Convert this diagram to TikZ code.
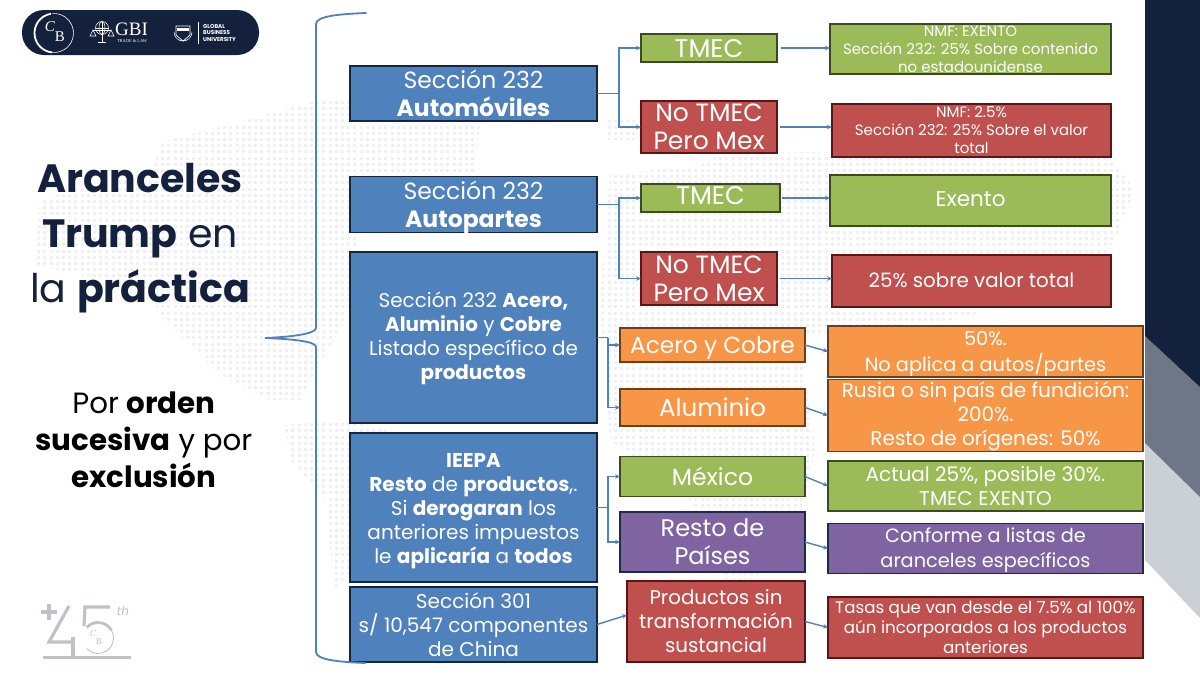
\documentclass[tikz,border=0pt]{standalone}
\usepackage{fontspec}
\setmainfont{Poppins}
\newfontfamily\serifgbi{Liberation Serif}
\usetikzlibrary{arrows.meta}
\definecolor{navy}{HTML}{14213D}
\definecolor{bluef}{HTML}{4F81BD}
\definecolor{blueb}{HTML}{14263F}
\definecolor{greenf}{HTML}{9BBB59}
\definecolor{greenb}{HTML}{3C4A20}
\definecolor{redf}{HTML}{C0504D}
\definecolor{redb}{HTML}{5A1616}
\definecolor{orangef}{HTML}{F79646}
\definecolor{orangeb}{HTML}{6E3F14}
\definecolor{purplef}{HTML}{8064A2}
\definecolor{purpleb}{HTML}{1F2A4A}
\definecolor{wire}{HTML}{4F81BD}
\definecolor{logogray}{HTML}{BFC2C7}
\definecolor{panelgray}{HTML}{6F7787}
\definecolor{panellight}{HTML}{CBCFD6}
\definecolor{mapdot}{HTML}{EEF0F4}
\newcommand{\fz}[2]{\fontsize{#1}{#2}\selectfont}
\newcommand{\dn}[2]{\raisebox{-#1}[\height][\depth]{\begin{tabular}{@{}c@{}}#2\end{tabular}}}
\tikzset{
  x=1pt,y=-1pt,
  box/.style n args={2}{minimum width=#1pt,minimum height=#2pt,inner sep=0pt,outer sep=0pt,
     align=center,text=white,line width=1.3pt,draw},
  bluebox/.style={fill=bluef,draw=blueb},
  greenbox/.style={fill=greenf,draw=greenb},
  redbox/.style={fill=redf,draw=redb},
  orangebox/.style={fill=orangef,draw=orangeb},
  purplebox/.style={fill=purplef,draw=purpleb},
  wireline/.style={draw=wire,line width=1.4pt},
  wirearrow/.style={wireline,-{Stealth[length=5pt,width=4.5pt]}},
  title/.style={align=center,inner sep=0pt},
}
\begin{document}
\begin{tikzpicture}
\useasboundingbox (0,0) rectangle (1200,675);
\fill[white] (0,0) rectangle (1200,675);
% world map of dots
\begin{scope}
\clip (160,142)--(240,122)--(320,100)--(470,103)--(480,125)--(475,172)--(360,175)--(358,270)--(345,320)--(300,400)--(270,400)--(220,375)--(190,345)--(160,315)--(150,290)--(35,265)--(40,200)--(155,165)--cycle
 (285,425)--(350,420)--(420,440)--(400,500)--(360,560)--(335,590)--(325,500)--(290,460)--cycle
 (604,120)--(645,120)--(645,140)--(604,140)--cycle
 (610,175)--(700,165)--(722,152)--(1105,152)--(1135,190)--(1115,240)--(1080,290)--(950,320)--(800,335)--(815,450)--(790,560)--(730,590)--(690,500)--(610,440)--(600,300)--cycle;
\foreach \r in {96,102.2,...,600}
  \draw[mapdot,line width=3pt,dash pattern=on 3pt off 3.2pt] (0,\r) -- (1145,\r);
\end{scope}
% right panel
\fill[panellight] (1145,443)--(1200,497)--(1200,618)--(1145,560)--cycle;
\fill[panelgray] (1145,336)--(1200,387)--(1200,497)--(1145,443)--cycle;
\fill[navy] (1145,0)--(1200,0)--(1200,387)--(1145,336)--cycle;
% logo pill
\fill[navy,rounded corners=22pt] (22,10) rectangle (259,55);
\draw[white,line width=1.8pt] ([shift={(54,33)}]261:19.5) arc (261:95:19.5);
\draw[white,line width=0.6pt] ([shift={(54,33)}]95:19.5) arc (95:-95:19.5);
\node[text=white,font=\serifgbi\itshape\fz{15}{15},inner sep=0pt] (logoC) at (50,27) {C};
\node[text=white,font=\serifgbi\fz{15}{15},inner sep=0pt] (logoB) at (60,37) {B};
\begin{scope}[white,line width=0.55pt]
 \draw (102,28) circle (6.5);
 \draw (95.5,28)--(108.5,28) (102,21.5)--(102,42) (98,42)--(106,42);
 \draw (102,28) ellipse (3 and 6.5);
 \draw (93,30)--(111,30);
 \draw (93,30)--(90,36)--(96,36)--cycle (111,30)--(108,36)--(114,36)--cycle;
\end{scope}
\node[text=white,font=\serifgbi\fz{19}{19},inner sep=0pt] (logoGBI) at (131.5,29.5) {GBI};
\node[text=white,font=\serifgbi\fz{4.4}{5},inner sep=0pt] (logoTL) at (132,41.5) {TRADE \& LAW};
\draw[white,line width=0.7pt,fill=navy] (176,26)--(190,26)--(190,35)--(183,41)--(176,35)--cycle;
\fill[white] (177,28) rectangle (189,31);
\draw[white,line width=0.5pt] ([shift={(183,32)}]180:9) arc (180:60:9) ([shift={(183,32)}]0:9) arc (0:120:9);
\draw[white,line width=0.6pt] (198,22)--(198,44);
\node[text=white,anchor=west,align=left,font=\bfseries\fz{5.6}{6.9},inner sep=0pt] (logoGBU) at (203,33) {GLOBAL\\BUSINESS\\UNIVERSITY};
% 45th logo
\begin{scope}[logogray]
 \draw[line width=3.2pt] (41,612)--(57,612) (49,604)--(49,620);
 \draw[line width=3.2pt] (69,606)--(49,642)--(75,642);
 \draw[line width=3.4pt] (73,637)--(73,656);
 \draw[line width=3.4pt] (43,657.5)--(131,657.5);
 \draw[line width=3.2pt] (110,607)--(85,607)--(84,626);
 \draw[line width=2.8pt] ([shift={(98,638)}]223:15.5) arc (223:330:15.5);
 \draw[line width=0.9pt] ([shift={(98,638)}]330:15.5) arc (330:497:15.5);
 \node[text=logogray,font=\itshape\fz{12}{12},inner sep=0pt] (logoTh) at (123,611) {th};
 \node[text=logogray,font=\serifgbi\itshape\fz{9}{9},inner sep=0pt] (logoC2) at (93,634) {C};
 \node[text=logogray,font=\serifgbi\fz{9}{9},inner sep=0pt] (logoB2) at (99,642) {B};
\end{scope}
% titles
\node[title,text=navy,font=\fz{39.5}{55}] (ttl) at (140,238) {\textbf{Aranceles}\\\textbf{Trump} en\\la \textbf{práctica}};
\node[title,text=black,font=\fz{29.3}{37}] (sub) at (144,440) {Por \textbf{orden}\\\textbf{sucesiva} y por\\\textbf{exclusión}};
% first column
\node[box={247}{55},bluebox,font=\fz{23.5}{28}] (A) at (473.5,93.5) {Sección 232\\\textbf{Automóviles}};
\node[box={247}{55},bluebox,font=\fz{23.5}{28}] (B) at (473.5,204.5) {\dn{3pt}{Sección 232\\\textbf{Autopartes}}};
\node[box={247}{171},bluebox,font=\fz{19.9}{24}] (C) at (473.5,337.5) {\dn{1.5pt}{Sección 232 \textbf{Acero,}\\\textbf{Aluminio} y \textbf{Cobre}\\Listado específico de\\\textbf{productos}}};
\node[box={247}{149},bluebox,font=\fz{20}{24}] (D) at (473.5,507.5) {\dn{3pt}{\textbf{IEEPA}\\\textbf{Resto} de \textbf{productos},.\\Si \textbf{derogaran} los\\anteriores impuestos\\le \textbf{aplicaría} a \textbf{todos}}};
\node[box={247}{75},bluebox,font=\fz{20}{24}] (E) at (473.5,624.5) {Sección 301\\s/ 10,547 componentes\\de China};
% second column
\node[box={136}{27},greenbox,font=\fz{25.5}{28}] (T1) at (709,48) {\dn{3.5pt}{TMEC}};
\node[box={136}{52},redbox,font=\fz{25}{28}] (N1) at (709,127) {No TMEC\\Pero Mex};
\node[box={139}{26},greenbox,font=\fz{25.5}{28}] (T2) at (710.5,198) {\dn{1pt}{TMEC}};
\node[box={136}{53},redbox,font=\fz{25}{28}] (N2) at (709,278.5) {No TMEC\\Pero Mex};
\node[box={185}{34},orangebox,font=\fz{23.2}{28}] (Ac) at (712.5,345) {\dn{3pt}{Acero y Cobre}};
\node[box={185}{37},orangebox,font=\fz{24.5}{28}] (Al) at (712.5,407.5) {Aluminio};
\node[box={185}{40},greenbox,font=\fz{23.5}{28}] (Mx) at (712.5,476.5) {México};
\node[box={185}{60},purplebox,font=\fz{24}{28}] (Rs) at (712.5,542) {Resto de\\Países};
\node[box={178}{81},redbox,font=\fz{19.8}{24}] (Pr) at (716,621.5) {Productos sin\\transformación\\sustancial};
% third column
\node[box={281}{50},greenbox,font=\fz{15}{18}] (R1) at (970.5,49) {NMF: EXENTO\\Sección 232: 25\% Sobre contenido\\no estadounidense};
\node[box={279}{53},redbox,font=\fz{15}{18}] (R2) at (971.5,130.5) {NMF: 2.5\%\\Sección 232: 25\% Sobre el valor\\total};
\node[box={281}{51},greenbox,font=\fz{21.5}{24}] (R3) at (970.5,200.5) {\dn{1pt}{Exento}};
\node[box={279}{52},redbox,font=\fz{19.8}{24}] (R4) at (971.5,281) {\dn{2pt}{25\% sobre valor total}};
\node[box={315}{51},orangebox,font=\fz{19.3}{25}] (R5) at (985.5,351.5) {\dn{2pt}{50\%.\\No aplica a autos/partes}};
\node[box={315}{65},orangebox,font=\fz{20}{24}] (R6) at (985.5,415.5) {\dn{1.5pt}{Rusia o sin país de fundición:\\200\%.\\Resto de orígenes: 50\%}};
\node[box={315}{50},greenbox,font=\fz{20}{24}] (R7) at (985.5,486) {Actual 25\%, posible 30\%.\\TMEC EXENTO};
\node[box={315}{49},purplebox,font=\fz{19.3}{25}] (R8) at (985.5,548.5) {\dn{1.5pt}{Conforme a listas de\\aranceles específicos}};
\node[box={315}{61},redbox,font=\fz{16.7}{20}] (R9) at (985.5,627.5) {Tasas que van desde el 7.5\% al 100\%\\aún incorporados a los productos\\anteriores};
% brace
\draw[wire,line width=1.8pt,line cap=round] (366,13) .. controls (340,14) and (316,16) .. (316,24)
  -- (316,328) .. controls (316,334) and (290,337) .. (265,338)
  .. controls (290,339) and (316,341) .. (316,347)
  -- (316,652) .. controls (316,660) and (340,662) .. (365,663);
% connectors
\coordinate (jA) at (619,93.5);
\coordinate (jB) at (619,204.5);
\coordinate (jC) at (608,337.5);
\coordinate (jD) at (608,507.5);
\draw[wireline] (A.east) -- (jA);
\draw[wirearrow] (jA) |- (T1.west);
\draw[wirearrow] (jA) |- (N1.west);
\draw[wireline] (B.east) -- (jB);
\draw[wirearrow] (jB) |- (T2.west);
\draw[wirearrow] (jB) |- (N2.west);
\draw[wireline] (C.east) -- (jC);
\draw[wirearrow] (jC) |- (Ac.west);
\draw[wirearrow] (jC) |- (Al.west);
\draw[wireline] (D.east) -- (jD);
\draw[wirearrow] (jD) |- (Mx.west);
\draw[wirearrow] (jD) |- (Rs.west);
\draw[wirearrow] (E.east) -- ([yshift=6.5pt]Pr.west);
\draw[wirearrow] ([xshift=4pt]T1.east) -- (T1.east -| R1.west);
\draw[wirearrow] ([xshift=3pt]N1.east) -- (N1.east -| R2.west);
\draw[wirearrow] ([xshift=2pt]T2.east) -- (T2.east -| R3.west);
\draw[wirearrow] ([xshift=3pt]N2.east) -- (N2.east -| R4.west);
\draw[wirearrow] (Ac.east) -- (R5.west);
\draw[wirearrow] (Al.east) -- (R6.west);
\draw[wirearrow] (Mx.east) -- (R7.west);
\draw[wirearrow] (Rs.east) -- (R8.west);
\draw[wirearrow] (Pr.east) -- (R9.west);
\end{tikzpicture}
\end{document}
